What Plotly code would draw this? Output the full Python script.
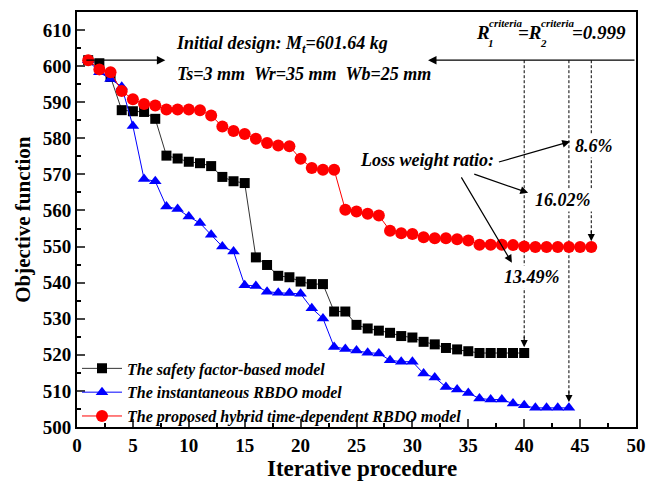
import plotly.graph_objects as go

# ---------------- data ----------------
safety_vals = [601.64, 600.8, 597.0, 587.8, 587.5, 587.3, 585.4, 575.2, 574.4, 573.5,
               573.1, 572.3, 569.3, 568.1, 567.6, 547.0, 544.9, 541.9, 541.5, 540.3,
               539.6, 539.6, 532.0, 532.0, 528.3, 527.3, 526.7, 526.1, 525.2, 524.8,
               523.6, 522.9, 521.9, 521.5, 521.0, 520.5, 520.5, 520.5, 520.5, 520.5]
instant_vals = [601.64, 598.3, 596.4, 594.3, 583.4, 568.7, 568.1, 561.1, 560.4, 558.3,
                556.5, 553.3, 550.0, 548.6, 539.3, 539.1, 537.5, 537.2, 537.1, 536.9,
                532.9, 530.1, 522.2, 521.6, 521.2, 520.6, 520.4, 518.5, 518.1, 518.1,
                514.8, 513.7, 511.1, 510.4, 509.4, 507.9, 507.6, 507.6, 506.5, 506.0,
                505.3, 505.3, 505.3, 505.3]
hybrid_vals = [601.64, 599.1, 598.3, 593.1, 590.8, 589.5, 589.1, 588.0, 588.0, 588.0,
               587.8, 586.3, 583.3, 582.0, 581.2, 579.9, 578.7, 578.0, 577.8, 574.3,
               571.8, 571.3, 571.3, 560.2, 559.7, 559.1, 558.6, 554.4, 553.7, 553.5,
               552.6, 552.3, 552.3, 552.0, 551.7, 550.5, 550.5, 550.5, 550.4, 550.0,
               549.9, 549.9, 549.9, 549.9, 549.9, 549.9]
safety_iter = list(range(1, len(safety_vals) + 1))
instant_iter = list(range(1, len(instant_vals) + 1))
hybrid_iter = list(range(1, len(hybrid_vals) + 1))

series_names = ["The safety factor-based model",
                "The instantaneous RBDO model",
                "The proposed hybrid time-dependent RBDO model"]
initial_mass = 601.64
loss_labels = ["13.49%", "16.02%", "8.6%"]
x_ticks = [0, 5, 10, 15, 20, 25, 30, 35, 40, 45, 50]
y_ticks = [500, 510, 520, 530, 540, 550, 560, 570, 580, 590, 600, 610]

FONT = "Liberation Serif"

fig = go.Figure()
fig.add_trace(go.Scatter(x=safety_iter, y=safety_vals, mode="lines+markers", name=series_names[0],
                         line=dict(color="#333333", width=1),
                         marker=dict(symbol="square", size=10, color="black")))
fig.add_trace(go.Scatter(x=instant_iter, y=instant_vals, mode="lines+markers", name=series_names[1],
                         line=dict(color="blue", width=1),
                         marker=dict(symbol="triangle-up", size=11, color="blue")))
fig.add_trace(go.Scatter(x=hybrid_iter, y=hybrid_vals, mode="lines+markers", name=series_names[2],
                         line=dict(color="red", width=1),
                         marker=dict(symbol="circle", size=12, color="red")))

ann = []
bi = dict(family=FONT, size=18, color="black", style="italic", weight="bold")

# Initial design text
ann.append(dict(x=8.7, y=606.0, xref="x", yref="y", xanchor="left", yanchor="middle", showarrow=False,
                text="Initial design: M<sub>t</sub>=601.64 kg", font=bi))
ann.append(dict(x=8.8, y=597.7, xref="x", yref="y", xanchor="left", yanchor="middle", showarrow=False,
                text="Ts=3 mm&nbsp;&nbsp;Wr=35 mm&nbsp;&nbsp;Wb=25 mm", font=bi))
# arrows on the initial design line
ann.append(dict(x=7.9, y=initial_mass, ax=0.7, ay=initial_mass, xref="x", yref="y", axref="x", ayref="y",
                text="", showarrow=True, arrowhead=2, arrowsize=1.3, arrowwidth=1.3, arrowcolor="black"))
ann.append(dict(x=31.4, y=initial_mass, ax=50, ay=initial_mass, xref="x", yref="y", axref="x", ayref="y",
                text="", showarrow=True, arrowhead=2, arrowsize=1.3, arrowwidth=1.3, arrowcolor="black"))

# R criteria text (stacked sub/sup)
big = dict(family=FONT, size=19, color="black", style="italic", weight="bold")
small = dict(family=FONT, size=11, color="black", style="italic", weight="bold")
ann += [
    dict(x=35.5, y=609.4, text="R", font=big),
    dict(x=36.7, y=611.9, text="criteria", font=small),
    dict(x=36.55, y=606.3, text="1", font=small),
    dict(x=39.3, y=609.4, text="=R", font=big),
    dict(x=41.35, y=611.9, text="criteria", font=small),
    dict(x=41.2, y=606.3, text="2", font=small),
    dict(x=44.1, y=609.4, text="=0.999", font=big),
]
for a in ann[-7:]:
    a.update(xref="x", yref="y", xanchor="left", yanchor="middle", showarrow=False)

# dashed vertical guides with arrowheads
shapes = []
targets = [(len(safety_vals), safety_vals[-1]), (len(instant_vals), instant_vals[-1]),
           (len(hybrid_vals), hybrid_vals[-1])]
for xv, yv in targets:
    shapes.append(dict(type="line", xref="x", yref="y", x0=xv, x1=xv, y0=initial_mass, y1=yv + 3.0,
                       line=dict(color="black", width=1, dash="3px,2px"), layer="below"))
    ann.append(dict(x=xv, y=yv + 1.6, ax=xv, ay=yv + 5.0, xref="x", yref="y", axref="x", ayref="y",
                    text="", showarrow=True, arrowhead=2, arrowsize=1.3, arrowwidth=1.1, arrowcolor="black"))

# Loss weight ratio
ann.append(dict(x=31.3, y=574.1, xref="x", yref="y", text="Loss weight ratio:", showarrow=False,
                xanchor="center", yanchor="middle", font=bi))
arrows = [((37.6, 573.3), (44.1, 579.1)),
          ((35.4, 570.2), (40.35, 564.9)),
          ((34.3, 569.6), (38.9, 545.5))]
for (tx, ty), (hx, hy) in arrows:
    ann.append(dict(x=hx, y=hy, ax=tx, ay=ty, xref="x", yref="y", axref="x", ayref="y", text="",
                    showarrow=True, arrowhead=2, arrowsize=1.3, arrowwidth=1.2, arrowcolor="black"))
label_pos = [(38.0, 541.6), (40.8, 563.0), (44.4, 578.0)]
for lab, (lx, ly) in zip(loss_labels, label_pos):
    ann.append(dict(x=lx, y=ly, xref="x", yref="y", text=lab, showarrow=False, xanchor="left",
                    yanchor="middle", font=bi, bgcolor="white", borderpad=1))

# axis titles as annotations in paper coordinates
ann.append(dict(x=-0.098, y=0.5, xref="paper", yref="paper", text="Objective function", textangle=-90,
                showarrow=False, xanchor="center", yanchor="middle",
                font=dict(family=FONT, size=21, color="black", weight="bold")))
ann.append(dict(x=0.51, y=-0.099, xref="paper", yref="paper", text="Iterative procedure",
                showarrow=False, xanchor="center", yanchor="middle",
                font=dict(family=FONT, size=23, color="black", weight="bold")))

fig.update_layout(
    width=646, height=482,
    margin=dict(l=77, r=10, t=12, b=55),
    paper_bgcolor="white", plot_bgcolor="white",
    annotations=ann, shapes=shapes,
    showlegend=True,
    legend=dict(x=0.0, y=0.182, xanchor="left", yanchor="top", bgcolor="rgba(0,0,0,0)",
                font=dict(family=FONT, size=16, color="black", style="italic", weight="bold"),
                itemwidth=40, tracegroupgap=0),
    xaxis=dict(range=[0, 50], tickvals=x_ticks, ticks="inside", ticklen=8, tickwidth=1.5,
               showline=True, linewidth=2, linecolor="black", mirror=True, showgrid=False, zeroline=False,
               automargin=False,
               minor=dict(ticks="inside", ticklen=4, dtick=2.5, tickwidth=1.5, tickcolor="black"),
               tickfont=dict(family=FONT, size=19, color="black", weight="bold")),
    yaxis=dict(range=[500, 615], tickvals=y_ticks, ticks="inside", ticklen=8, tickwidth=1.5,
               showline=True, linewidth=2, linecolor="black", mirror=True, showgrid=False, zeroline=False,
               automargin=False,
               minor=dict(ticks="inside", ticklen=4, dtick=5, tickwidth=1.5, tickcolor="black"),
               tickfont=dict(family=FONT, size=19, color="black", weight="bold")),
)

fig.write_html("out.html", config={"displayModeBar": False},
               post_script="document.body.style.margin='0';document.body.style.overflow='hidden';")
